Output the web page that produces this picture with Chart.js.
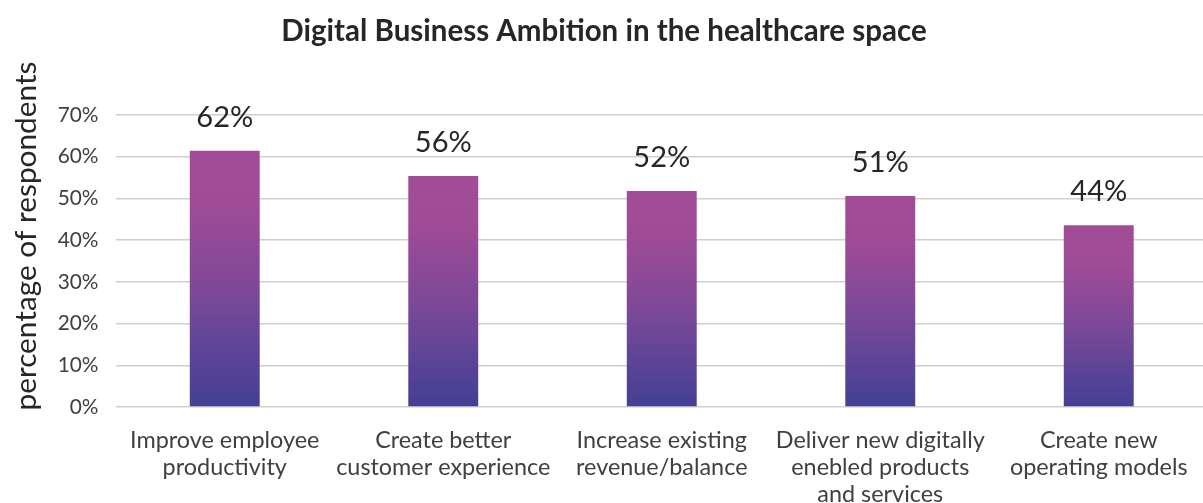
<!DOCTYPE html>
<html>
<head>
<meta charset="utf-8">
<script src="https://cdn.jsdelivr.net/npm/chart.js@4/dist/chart.umd.min.js"></script>
<style>
  html, body { margin: 0; padding: 0; background: #ffffff; overflow: hidden; }
  #wrap { width: 1203px; height: 503px; overflow: hidden; position: relative; }
  canvas { display: block; }
</style>
</head>
<body>
<div id="wrap"><canvas id="c" width="1212" height="503"></canvas></div>
<script>
const chartTitle = "Digital Business Ambition in the healthcare space";
const yAxisTitle = "percentage of respondents";
const categories = [
  ["Improve employee", "productivity"],
  ["Create better", "customer experience"],
  ["Increase existing", "revenue/balance"],
  ["Deliver new digitally", "enebled products", "and services"],
  ["Create new", "operating models"]
];
const values = [61.4, 55.4, 51.8, 50.6, 43.6];
const valueLabels = ["62%", "56%", "52%", "51%", "44%"];
const yMin = 0, yMax = 70, yStep = 10;

const FONT = "Lato, 'Noto Sans', sans-serif";
const TEXT = "#404040";

function barGradient(ctx) {
  const chart = ctx.chart;
  const ys = chart.scales && chart.scales.y;
  if (!ys || ctx.raw === undefined) return "#7b4897";
  const top = ys.getPixelForValue(ctx.raw);
  const base = ys.getPixelForValue(0);
  if (!isFinite(top) || !isFinite(base) || top === base) return "#7b4897";
  const g = chart.ctx.createLinearGradient(0, top, 0, base);
  g.addColorStop(0, "#a24c97");
  g.addColorStop(0.22, "#9f4b96");
  g.addColorStop(0.57, "#7a4898");
  g.addColorStop(0.78, "#5e4496");
  g.addColorStop(1, "#443f95");
  return g;
}

const valueLabelPlugin = {
  id: "valueLabels",
  afterDatasetsDraw(chart) {
    const c = chart.ctx;
    const meta = chart.getDatasetMeta(0);
    c.save();
    c.font = "29px " + FONT;
    c.fillStyle = "#262626";
    c.textAlign = "center";
    c.textBaseline = "alphabetic";
    meta.data.forEach((el, i) => {
      c.fillText(valueLabels[i], el.x, el.y - 24);
    });
    c.restore();
  }
};

const yTitlePlugin = {
  id: "yTitle",
  afterDraw(chart) {
    const c = chart.ctx;
    c.save();
    c.translate(36, 236);
    c.rotate(-Math.PI / 2);
    c.font = "29.8px " + FONT;
    c.fillStyle = "#262626";
    c.textAlign = "center";
    c.textBaseline = "alphabetic";
    c.fillText(yAxisTitle, 0, 0);
    c.restore();
  }
};

new Chart(document.getElementById("c"), {
  type: "bar",
  data: {
    labels: categories,
    datasets: [{
      data: values,
      backgroundColor: barGradient,
      borderWidth: 0,
      categoryPercentage: 1,
      barPercentage: 0.32
    }]
  },
  options: {
    responsive: false,
    animation: false,
    devicePixelRatio: 1,
    layout: { padding: { left: 0, right: 4, top: 0, bottom: 0 } },
    plugins: {
      legend: { display: false },
      tooltip: { enabled: false },
      title: {
        display: true,
        text: chartTitle,
        color: "#262626",
        font: { family: FONT, size: 29.5, weight: "bold", lineHeight: 1.2 },
        padding: { top: 13.3, bottom: 66.3 }
      }
    },
    scales: {
      x: {
        grid: { display: false, drawTicks: false },
        border: { display: false },
        ticks: {
          color: TEXT,
          font: { family: FONT, size: 23.4, lineHeight: 1.15 },
          padding: 20,
          maxRotation: 0,
          autoSkip: false
        },
        afterFit(scale) { scale.height = 96; }
      },
      y: {
        min: yMin,
        max: yMax,
        grid: { color: "#d0d0d0", lineWidth: 1.5, drawTicks: false },
        border: { display: false },
        ticks: {
          stepSize: yStep,
          color: TEXT,
          font: { family: FONT, size: 20.8 },
          padding: 17,
          callback: v => v + "%"
        },
        afterFit(scale) { scale.width = 115.5; }
      }
    }
  },
  plugins: [valueLabelPlugin, yTitlePlugin]
});
</script>
</body>
</html>
